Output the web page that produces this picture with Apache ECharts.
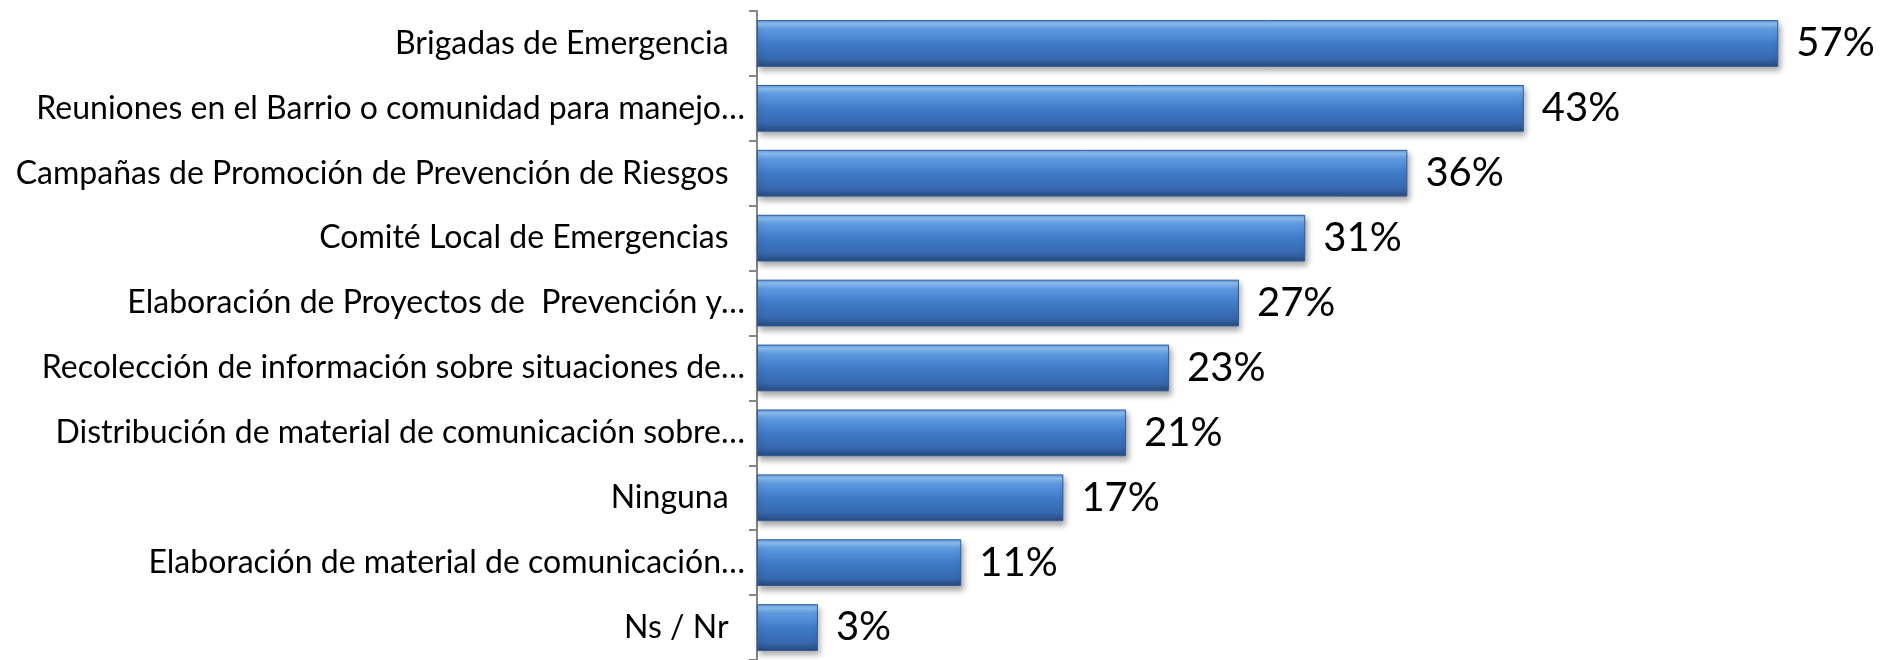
<!DOCTYPE html>
<html>
<head>
<meta charset="utf-8">
<title>Actividades</title>
<script src="https://cdn.jsdelivr.net/npm/echarts@6/dist/echarts.min.js"></script>
<style>
  html, body { margin: 0; padding: 0; background: #fff; }
  #chart { width: 1884px; height: 660px; }
</style>
</head>
<body>
<div id="chart"></div>
<script>
// categorias, de arriba hacia abajo
const categories = [
  'Brigadas de Emergencia  ',
  'Reuniones en el Barrio o comunidad para manejo…',
  'Campañas de Promoción de Prevención de Riesgos  ',
  'Comité Local de Emergencias  ',
  'Elaboración de Proyectos de  Prevención y…',
  'Recolección de información sobre situaciones de…',
  'Distribución de material de comunicación sobre…',
  'Ninguna  ',
  'Elaboración de material de comunicación…',
  'Ns / Nr  '
];
// porcentajes
const values = [57, 42.8, 36.3, 30.6, 26.9, 23.0, 20.6, 17.1, 11.4, 3.4];
const xMax = 60;

const chart = echarts.init(document.getElementById('chart'));

// barra con relieve (degradado vertical)
const barColor = new echarts.graphic.LinearGradient(0, 0, 0, 1, [
  { offset: 0, color: '#5d97dd' },
  { offset: 0.08, color: '#8dc1f4' },
  { offset: 0.2, color: '#5e9be2' },
  { offset: 0.5, color: '#3f7bc8' },
  { offset: 0.82, color: '#3769b0' },
  { offset: 1, color: '#27497c' }
]);

const option = {
  animation: false,
  grid: {
    left: 757,
    top: 11,
    width: 1075,
    height: 653,
    containLabel: false
  },
  xAxis: {
    type: 'value',
    min: 0,
    max: xMax,
    show: false
  },
  yAxis: {
    type: 'category',
    inverse: true,
    data: categories,
    axisLine: { show: true, lineStyle: { color: '#868686', width: 2 } },
    axisTick: {
      show: true,
      interval: 0,
      inside: false,
      length: 8,
      lineStyle: { color: '#868686', width: 2 }
    },
    axisLabel: {
      interval: 0,
      margin: 12,
      color: '#000',
      fontFamily: 'Lato',
      fontSize: 32
    }
  },
  series: [
    {
      type: 'bar',
      data: values,
      barCategoryGap: '28%',
      itemStyle: {
        color: barColor,
        borderColor: '#2f5d9a',
        borderWidth: 1,
        shadowColor: 'rgba(0,0,0,0.35)',
        shadowBlur: 6,
        shadowOffsetX: 2,
        shadowOffsetY: 4
      },
      label: {
        show: true,
        position: 'right',
        distance: 18,
        color: '#000',
        fontFamily: 'Lato',
        fontSize: 40,
        formatter: p => Math.round(p.value) + '%'
      }
    }
  ]
};

chart.setOption(option);
</script>
</body>
</html>
